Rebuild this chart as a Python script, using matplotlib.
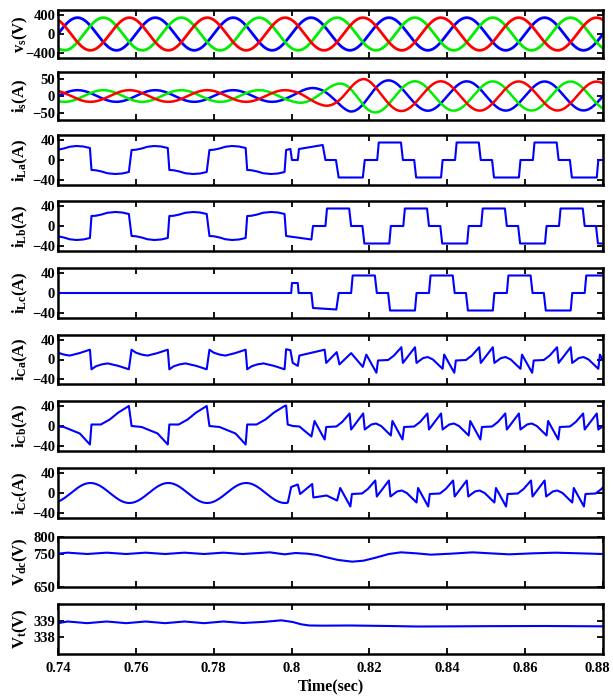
import numpy as np
import matplotlib
matplotlib.use("Agg")
import matplotlib.pyplot as plt

plt.rcParams['font.family'] = ['Liberation Serif', 'DejaVu Serif']
plt.rcParams['font.weight'] = 'bold'
plt.rcParams['mathtext.fontset'] = 'custom'
plt.rcParams['mathtext.rm'] = 'Liberation Serif:bold'
plt.rcParams['mathtext.it'] = 'Liberation Serif:bold'
plt.rcParams['mathtext.bf'] = 'Liberation Serif:bold'

# ---------------- data ----------------
FREQ = 50.0
T_START, T_END = 0.74, 0.88
x_ticks = [0.74, 0.76, 0.78, 0.80, 0.82, 0.84, 0.86, 0.88]
x_tick_labels = ['0.74', '0.76', '0.78', '0.8', '0.82', '0.84', '0.86', '0.88']

# source voltages (blue, green, red)
vs_amp = 340.0
phase_deg = [0.0, -120.0, 120.0]

# source current amplitude envelope
is_env_t = [0.74, 0.800, 0.803, 0.807, 0.811, 0.815, 0.819, 0.824, 0.830, 0.88]
is_env_a = [17.0, 17.0, 21.0, 25.0, 33.0, 45.0, 50.0, 46.0, 43.0, 42.0]

# load current a, before 0.8 s (one period, relative to the up-jump)
iL_pre_rel = [0.0004, 0.0015, 0.003, 0.0045, 0.0062, 0.008, 0.0097,
              0.0101, 0.0112, 0.0127, 0.0142, 0.0162, 0.018, 0.0197]
iLa_pre_val = [20, 20.5, 23, 26.5, 28, 27, 24,
               -20, -20.5, -23, -26.5, -28, -27, -24]
iL_pre_starts = [0.7185, 0.7385, 0.7585, 0.7785]

# load currents after 0.8 s (one period, relative to the -35 -> 0 step)
iL_post_rel = [0.0, 0.0032, 0.0036, 0.0093, 0.0098, 0.0127, 0.0132, 0.0196]
iL_post_val = [0, 0, 35, 35, 0, 0, -35, -35]
iLa_post_starts = [0.8188, 0.8388, 0.8588, 0.8788]
iLb_post_starts = [0.8055, 0.8255, 0.8455, 0.8655]
iLc_post_starts = [0.8121, 0.8321, 0.8521, 0.8721]

# transition pieces
iLa_tr_t = [0.7986, 0.7997, 0.8001, 0.8016, 0.8019, 0.8080, 0.8087, 0.8114, 0.8121, 0.8183]
iLa_tr_v = [20, 22, 0, 0, 22, 30, 0, 0, -35, -35]
iLb_tr_t = [0.7986, 0.8051]
iLb_tr_v = [-20, -27]
iLc_tr_t = [0.74, 0.7999, 0.8001, 0.8016, 0.8018, 0.8051, 0.8055, 0.8115]
iLc_tr_v = [0, 0, 20, 20, 0, 0, -30, -33]

# compensator currents
iCa_pre_rel = [0.0004, 0.0015, 0.003, 0.0045, 0.007, 0.0097,
               0.0101, 0.0112, 0.0127, 0.0143, 0.017, 0.0197]
iCa_pre_val = [20, 14, 10, 8, 13, 20, -20, -14, -10, -8, -13, -20]
iCb_pre_rel = [0.0004, 0.003, 0.0071, 0.0097, 0.0101, 0.0125, 0.0148, 0.017, 0.0197]
iCb_pre_val = [0, -2, -15, -37, 3, 3, 13, 27, 40]
iC_pre_starts = [0.7185, 0.7385, 0.7585, 0.7785]
iCc_pre_amp = 20.0

iC_post_rel = [0.0004, 0.003, 0.0034, 0.006, 0.0075, 0.0094, 0.0098,
               0.0129, 0.0133, 0.015, 0.0162, 0.0175, 0.0200]
iC_post_val = [10, -27, -2, -1, 8, 25, -7, 25, -7, 3, 5, 0, -19]
iCa_post_starts = [0.8188, 0.8388, 0.8588, 0.8788]
iCb_post_starts = [0.8055, 0.8255, 0.8455, 0.8655]
iCc_post_starts = [0.8121, 0.8321, 0.8521, 0.8721]

iCa_tr_t = [0.7986, 0.7997, 0.8003, 0.8016, 0.8020, 0.8085, 0.8089, 0.8116, 0.8123, 0.8153, 0.8183]
iCa_tr_v = [21, 19, -7, -13, 8, 20, -7, 15, -10, 13, -15]
iCb_tr_t = [0.7986, 0.7990, 0.8003, 0.8020, 0.8051]
iCb_tr_v = [41, 3, 0, -1, -21]
iCc_tr_t = [0.7991, 0.7999, 0.8016, 0.8022, 0.8053, 0.8056, 0.8090, 0.8117]
iCc_tr_v = [-17, 12, 17, -2, 18, -9, -5, -15]

# dc-link voltage
vdc_t = [0.74, 0.7425, 0.7475, 0.7525, 0.7575, 0.7625, 0.7675, 0.7725, 0.7775,
         0.7825, 0.7875, 0.7944, 0.7982, 0.8010, 0.8040, 0.8066, 0.8090, 0.8120,
         0.8156, 0.8185, 0.8216, 0.8250, 0.8281, 0.8320, 0.8358, 0.8410, 0.8465,
         0.8510, 0.8559, 0.8620, 0.8678, 0.8740, 0.8800]
vdc_v = [750, 753, 749, 753, 749, 753, 749, 753, 749,
         753, 749, 754, 748, 752, 750, 746, 739, 731,
         726, 729, 738, 749, 754, 751, 747, 750, 754,
         751, 748, 751, 753, 751, 749]

# terminal voltage
vt_t = [0.74, 0.7425, 0.7475, 0.7525, 0.7575, 0.7625, 0.7675, 0.7725, 0.7775,
        0.7825, 0.7875, 0.7930, 0.7974, 0.8003, 0.8025, 0.8046, 0.8080, 0.8149,
        0.8250, 0.8323, 0.8420, 0.8500, 0.8650, 0.8800]
vt_v = [338.85, 338.95, 338.85, 338.95, 338.85, 338.95, 338.85, 338.95, 338.85,
        338.95, 338.86, 338.93, 339.02, 338.92, 338.78, 338.71, 338.70, 338.71,
        338.68, 338.65, 338.66, 338.67, 338.68, 338.66]

# ---------------- helpers ----------------
def tile(starts, rel, val):
    ts, vs = [], []
    for s in starts:
        ts.extend([s + r for r in rel])
        vs.extend(val)
    return ts, vs


def assemble(*pieces):
    ts, vs = [], []
    for p_t, p_v in pieces:
        ts.extend(p_t)
        vs.extend(p_v)
    ts = np.array(ts)
    vs = np.array(vs, dtype=float)
    order = np.argsort(ts, kind='stable')
    return ts[order], vs[order]


t = np.linspace(T_START, T_END, 5001)
w = 2 * np.pi * FREQ

# ---------------- figure ----------------
fig = plt.figure(figsize=(6.13, 7.0), dpi=100)
H = 700.0
panel_px = [(10, 58), (72, 120), (135, 185), (201, 251), (268, 318),
            (335, 384), (401, 451), (468, 518), (537, 587), (604, 654)]
left_px, right_px = 58, 603
axes = []
for top, bot in panel_px:
    ax = fig.add_axes([left_px / 613.0, 1 - bot / H, (right_px - left_px) / 613.0, (bot - top) / H])
    axes.append(ax)

BLUE = '#0000ff'
GREEN = '#00ee00'
RED = '#ff0000'
cols3 = [BLUE, GREEN, RED]

# v_s
for ph, c in zip(phase_deg, cols3):
    axes[0].plot(t, vs_amp * np.sin(w * t + np.deg2rad(ph)), color=c, lw=2.0)
axes[0].set_ylim(-500, 500)
axes[0].set_yticks([-400, 0, 400])

# i_s
amp = np.interp(t, is_env_t, is_env_a)
for ph, c in zip(phase_deg, cols3):
    axes[1].plot(t, amp * np.sin(w * t + np.deg2rad(ph)), color=c, lw=1.8)
axes[1].set_ylim(-70, 70)
axes[1].set_yticks([-50, 0, 50])

# load currents
iLa = assemble(tile(iL_pre_starts, iL_pre_rel, iLa_pre_val), (iLa_tr_t, iLa_tr_v),
               tile(iLa_post_starts, iL_post_rel, iL_post_val))
iLb = assemble(tile(iL_pre_starts, iL_pre_rel, [-v for v in iLa_pre_val]), (iLb_tr_t, iLb_tr_v),
               tile(iLb_post_starts, iL_post_rel, iL_post_val))
iLc = assemble((iLc_tr_t, iLc_tr_v), tile(iLc_post_starts, iL_post_rel, iL_post_val))

# compensator currents
iCa = assemble(tile(iC_pre_starts, iCa_pre_rel, iCa_pre_val), (iCa_tr_t, iCa_tr_v),
               tile(iCa_post_starts, iC_post_rel, iC_post_val))
iCb = assemble(tile(iC_pre_starts, iCb_pre_rel, iCb_pre_val), (iCb_tr_t, iCb_tr_v),
               tile(iCb_post_starts, iC_post_rel, iC_post_val))
t_cc = t[t < 0.7990]
iCc = assemble((t_cc, -iCc_pre_amp * np.sin(w * t_cc + np.deg2rad(120))), (iCc_tr_t, iCc_tr_v),
               tile(iCc_post_starts, iC_post_rel, iC_post_val))

for ax, (tt, vv) in zip(axes[2:8], [iLa, iLb, iLc, iCa, iCb, iCc]):
    ax.plot(tt, vv, color=BLUE, lw=1.5)
    ax.set_ylim(-50, 50)
    ax.set_yticks([-40, 0, 40])

axes[8].plot(vdc_t, vdc_v, color=BLUE, lw=1.5)
axes[8].set_ylim(650, 800)
axes[8].set_yticks([650, 750, 800])

axes[9].plot(vt_t, vt_v, color=BLUE, lw=1.5)
axes[9].set_ylim(337, 340)
axes[9].set_yticks([338, 339])

ylabels = [r'v$_\mathregular{s}$(V)', r'i$_\mathregular{s}$(A)', r'i$_\mathregular{La}$(A)',
           r'i$_\mathregular{Lb}$(A)', r'i$_\mathregular{Lc}$(A)', r'i$_\mathregular{Ca}$(A)',
           r'i$_\mathregular{Cb}$(A)', r'i$_\mathregular{Cc}$(A)', r'V$_\mathregular{dc}$(V)',
           r'V$_\mathregular{t}$(V)']

for i, ax in enumerate(axes):
    ax.set_xlim(T_START, T_END)
    ax.set_xticks(x_ticks)
    ax.tick_params(direction='in', top=True, right=True, length=4, width=1.3,
                   labelsize=10.5)
    ax.tick_params(axis='y', pad=2)
    ax.tick_params(axis='x', pad=6)
    for s in ax.spines.values():
        s.set_linewidth(1.8)
    if i < 9:
        ax.set_xticklabels([])
    else:
        # last label is drawn separately, nudged left so it stays inside the figure
        ax.set_xticklabels(x_tick_labels[:-1] + [''])
        ax.annotate(x_tick_labels[-1], xy=(x_ticks[-1], 0), xycoords=('data', 'axes fraction'),
                    xytext=(-4, -6), textcoords='offset points', ha='center', va='top',
                    fontsize=10.5, fontweight='bold')
        ax.set_xlabel('Time(sec)', fontsize=11.5, fontweight='bold', labelpad=2)
    ax.set_ylabel(ylabels[i], fontsize=12, fontweight='bold')
    ax.yaxis.set_label_coords(-0.052, 0.5)

fig.savefig('out.png', dpi=100)
